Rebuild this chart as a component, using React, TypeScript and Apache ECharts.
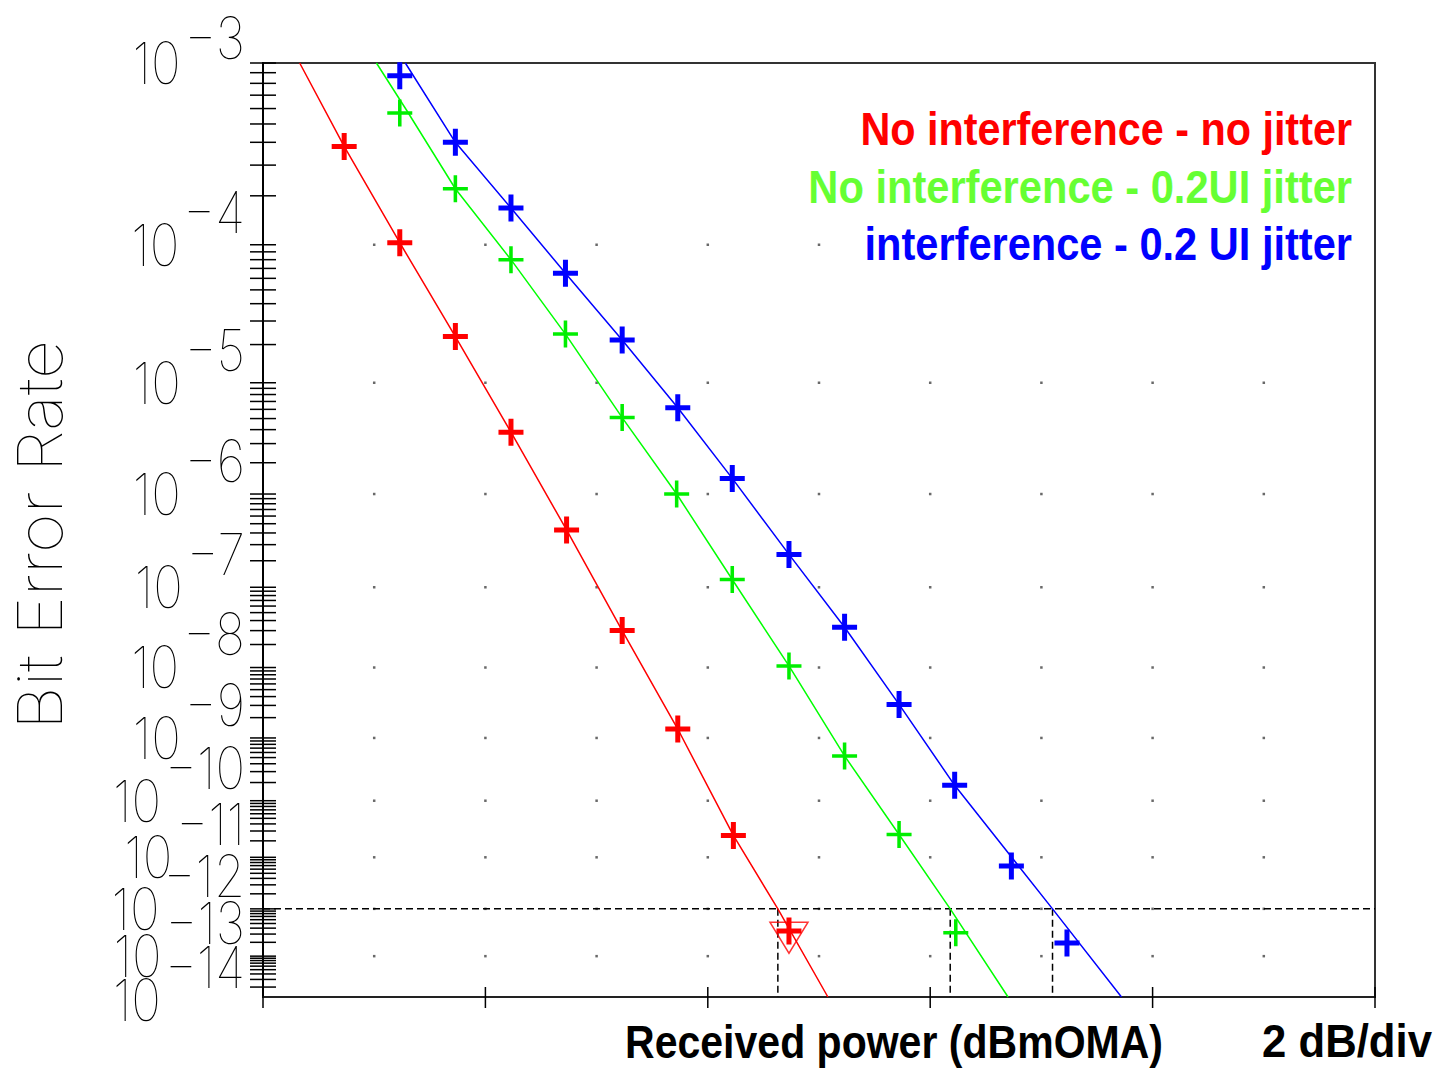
import React, { useEffect, useRef } from 'react';
import * as echarts from 'echarts';

// ---------------- data ----------------
// x: received power in dB from the left edge of the plot (2 dB / division)
// y: bit error rate
const xTicksDb = [0, 2, 4, 6, 8, 10];
const gridDotsDb = [1, 2, 3, 4, 5, 6, 7, 8, 9];
const gridDotsDecades = [4, 5, 6, 7, 8, 9, 10, 11, 12, 13];
const yLabelDecades = [3, 4, 5, 6, 7, 8, 9, 10, 11, 12, 13, 14];

const BER_TOP = 1e-3;
const BER_BOTTOM = 1.17e-14;

// measured points (+ markers)
const redPowerDb = [0.73, 1.23, 1.73, 2.23, 2.73, 3.23, 3.73, 4.23, 4.73];
const redBer = [3.8e-4, 1.03e-4, 2.3e-5, 3.8e-6, 4.3e-7, 3.0e-8, 1.36e-9, 2.5e-11, 3.5e-13];

const greenPowerDb = [1.23, 1.73, 2.23, 2.72, 3.23, 3.72, 4.22, 4.73, 5.23, 5.72, 6.23];
const greenBer = [5.7e-4, 2.2e-4, 8.0e-5, 2.4e-5, 5.1e-6, 1.0e-6, 1.23e-7, 1.05e-8, 5.3e-10, 2.6e-11, 3.2e-13];

const bluePowerDb = [1.23, 1.73, 2.23, 2.72, 3.23, 3.73, 4.22, 4.73, 5.23, 5.72, 6.22, 6.73, 7.23];
const blueBer = [8.7e-4, 4.0e-4, 1.69e-4, 6.5e-5, 2.17e-5, 6.2e-6, 1.42e-6, 2.35e-7, 3.3e-8, 3.1e-9, 1.8e-10, 6.9e-12, 1.94e-13];

// fitted curves
const redFitDb = [0.33, 0.73, 1.23, 1.73, 2.23, 2.73, 3.23, 3.73, 4.23, 4.63, 5.08];
const redFitBer = [1e-3, 3.8e-4, 1.03e-4, 2.3e-5, 3.8e-6, 4.3e-7, 3.0e-8, 1.36e-9, 2.5e-11, 1e-12, 1.17e-14];

const greenFitDb = [1.02, 1.29, 1.73, 2.23, 2.72, 3.23, 3.72, 4.22, 4.73, 5.23, 5.72, 6.18, 6.7];
const greenFitBer = [1e-3, 5.9e-4, 2.2e-4, 8.0e-5, 2.4e-5, 5.1e-6, 1.0e-6, 1.23e-7, 1.05e-8, 5.3e-10, 2.6e-11, 1e-12, 1.17e-14];

const blueFitDb = [1.28, 1.73, 2.23, 2.72, 3.23, 3.73, 4.22, 4.73, 5.23, 5.72, 6.22, 7.1, 7.72];
const blueFitBer = [1e-3, 4.0e-4, 1.69e-4, 6.5e-5, 2.17e-5, 6.2e-6, 1.42e-6, 2.35e-7, 3.3e-8, 3.1e-9, 1.8e-10, 1e-12, 1.17e-14];

// 1e-12 sensitivity construction
const thresholdBer = 1e-12;
const thresholdCrossDb = [4.63, 6.18, 7.1];
const redTriangleDb = [4.73];
const redTriangleBer = [2.5e-13];

const legendTexts = ['No interference - no jitter', 'No interference - 0.2UI jitter', 'interference - 0.2 UI jitter'];
const legendColors = ['#ff0000', '#66ff33', '#0000ff'];

// ---------------- BER scale ----------------
const tf = (ber: number) => Math.log10(-Math.log10(ber) - 0.3);

const PLUS5 = 'path://M9.6,0H14.4V10.6H24V15.4H14.4V26H9.6V15.4H0V10.6H9.6Z';
const PLUS35 = 'path://M10.3,0H13.7V11.3H24V14.7H13.7V26H10.3V14.7H0V11.3H10.3Z';

export default function App() {
  const ref = useRef<HTMLDivElement>(null);

  useEffect(() => {
    const chart = echarts.init(ref.current!, null, { renderer: 'svg' });

    const ctx = document.createElement('canvas').getContext('2d')!;
    const measure = (t: string, font: string) => {
      ctx.font = font;
      return ctx.measureText(t).width;
    };

    const labelFamily = 'Inter, "DejaVu Sans Mono", sans-serif';
    const labelSize = 58;
    const labelWeight = 100;
    const labelFont = `${labelWeight} ${labelSize}px ${labelFamily}`;
    const labelScale = 48 / measure('10', labelFont);

    const boldFamily = '"Liberation Sans", Arial, sans-serif';
    const boldSize = 47;
    const boldFont = `bold ${boldSize}px ${boldFamily}`;

    const yMin = tf(BER_TOP);
    const yMax = tf(BER_BOTTOM);

    const yTickBers: number[] = [];
    for (let m = 3; m <= 14; m++) {
      for (let k = 1; k <= 9; k++) {
        const b = k * Math.pow(10, -m);
        if (b <= BER_TOP * 1.0001 && b >= BER_BOTTOM) yTickBers.push(b);
      }
    }

    const dots: number[][] = [];
    gridDotsDecades.forEach((d) => gridDotsDb.forEach((x) => dots.push([x, tf(Math.pow(10, -d))])));

    const textStyle = (text: string, font: string, fill: string, align: string, lineHeight?: number) => ({
      text,
      font,
      fill,
      align,
      textAlign: align,
      verticalAlign: 'middle',
      textVerticalAlign: 'middle',
      ...(lineHeight ? { lineHeight } : {}),
    });

    const fitLine = (name: string, xs: number[], bs: number[], color: string) => ({
      type: 'line',
      name,
      data: xs.map((x, i) => [x, tf(bs[i])]),
      showSymbol: false,
      symbol: 'none',
      lineStyle: { color, width: 1.5 },
      z: 3,
      silent: true,
    });

    const markers = (name: string, xs: number[], bs: number[], color: string, sym: string) => ({
      type: 'scatter',
      name,
      data: xs.map((x, i) => [x, tf(bs[i])]),
      symbol: sym,
      symbolSize: [25, 27],
      itemStyle: { color, opacity: 1 },
      z: 4,
      silent: true,
    });

    const legendGraphics = legendTexts.map((t, i) => {
      const targetW = [492, 544, 488][i];
      const sx = targetW / measure(t, boldFont);
      return {
        type: 'text',
        x: 1352,
        y: [129, 187, 244][i],
        scaleX: sx,
        z: 100,
        style: { ...textStyle(t, boldFont, legendColors[i], 'right'), backgroundColor: '#fff' },
      };
    });

    const xTitle = 'Received power (dBmOMA)';
    const xDiv = '2 dB/div';
    const yTitle = 'Bit Error Rate';
    const yTitleFont = `${labelWeight} 62px ${labelFamily}`;

    const option: any = {
      animation: false,
      backgroundColor: '#fff',
      grid: { left: 263, top: 63, right: 68, bottom: 71, show: true, borderColor: '#333', borderWidth: 2, backgroundColor: 'transparent' },
      xAxis: {
        type: 'value',
        min: 0,
        max: 10,
        interval: 2,
        axisLine: { show: true, onZero: false, lineStyle: { color: '#222', width: 2 } },
        axisTick: { show: false },
        axisLabel: { show: false },
        splitLine: { show: false },
      },
      yAxis: {
        type: 'value',
        inverse: true,
        min: yMin,
        max: yMax,
        axisLine: { show: true, onZero: false, lineStyle: { color: '#000', width: 2 } },
        axisTick: { show: false },
        axisLabel: { show: false },
        splitLine: { show: false },
      },
      graphic: [
        ...legendGraphics,
        {
          type: 'text',
          x: 1163,
          y: 1041,
          scaleX: 538 / measure(xTitle, boldFont),
          style: textStyle(xTitle, boldFont, '#000', 'right'),
        },
        {
          type: 'text',
          x: 1432,
          y: 1041,
          scaleX: 170 / measure(xDiv, boldFont),
          style: textStyle(xDiv, boldFont, '#000', 'right'),
        },
        {
          type: 'text',
          x: 40,
          y: 535,
          rotation: Math.PI / 2,
          scaleX: 390 / measure(yTitle, yTitleFont),
          style: textStyle(yTitle, yTitleFont, '#000', 'center', 50),
        },
      ],
      series: [
        {
          type: 'scatter',
          name: 'grid dots',
          data: dots,
          symbol: 'rect',
          symbolSize: 2.5,
          itemStyle: { color: '#444' },
          z: 1,
          silent: true,
        },
        {
          type: 'line',
          name: 'threshold',
          data: [[0, tf(thresholdBer)], [10, tf(thresholdBer)]],
          symbol: 'none',
          lineStyle: { color: '#000', width: 1.5, type: [7, 4] },
          z: 2,
          silent: true,
        },
        ...thresholdCrossDb.map((x, i) => ({
          type: 'line',
          name: 'cross' + i,
          data: [[x, tf(thresholdBer)], [x, yMax]],
          symbol: 'none',
          lineStyle: { color: '#000', width: 1.5, type: [7, 4] },
          z: 2,
          silent: true,
        })),
        fitLine('red fit', redFitDb, redFitBer, '#ff0000'),
        fitLine('green fit', greenFitDb, greenFitBer, '#00ff00'),
        fitLine('blue fit', blueFitDb, blueFitBer, '#0000ff'),
        markers('No interference - no jitter', redPowerDb, redBer, '#ff0000', PLUS5),
        markers('No interference - 0.2UI jitter', greenPowerDb, greenBer, '#00ee00', PLUS35),
        markers('interference - 0.2 UI jitter', bluePowerDb, blueBer, '#0000ff', PLUS5),
        {
          type: 'scatter',
          name: 'red triangle',
          data: redTriangleDb.map((x, i) => [x, tf(redTriangleBer[i])]),
          symbol: 'triangle',
          symbolRotate: 180,
          symbolSize: [38, 31],
          itemStyle: { color: 'rgba(0,0,0,0)', borderColor: '#ff0000', borderWidth: 1.5 },
          z: 5,
          silent: true,
        },
        {
          type: 'custom',
          name: 'y ticks',
          silent: true,
          clip: false,
          z: 10,
          encode: { x: 0, y: 1 },
          data: yTickBers.map((b) => [0, tf(b)]),
          renderItem: (_p: any, api: any) => {
            const c = api.coord([api.value(0), api.value(1)]);
            return {
              type: 'line',
              shape: { x1: c[0] - 13, y1: c[1], x2: c[0] + 13, y2: c[1] },
              style: { stroke: '#000', lineWidth: 1.5 },
            };
          },
        },
        {
          type: 'custom',
          name: 'x ticks',
          silent: true,
          clip: false,
          z: 10,
          encode: { x: 0, y: 1 },
          data: xTicksDb.map((x) => [x, yMax]),
          renderItem: (_p: any, api: any) => {
            const c = api.coord([api.value(0), api.value(1)]);
            return {
              type: 'line',
              shape: { x1: c[0], y1: c[1] - 10, x2: c[0], y2: c[1] + 11 },
              style: { stroke: '#000', lineWidth: 1.5 },
            };
          },
        },
        {
          type: 'custom',
          name: 'y labels',
          silent: true,
          clip: false,
          z: 10,
          encode: { x: 0, y: 1 },
          data: yLabelDecades.map((d) => [0, tf(Math.pow(10, -d)), d]),
          renderItem: (_p: any, api: any) => {
            const d = api.value(2);
            const c = api.coord([0, api.value(1)]);
            const exp = '\u2212' + d;
            const expRight = 245;
            const expW = measure(exp, labelFont) * labelScale;
            const baseRight = expRight - expW - 4;
            const expY = Math.max(c[1] - 33, 38);
            return {
              type: 'group',
              children: [
                {
                  type: 'text',
                  x: baseRight,
                  y: c[1],
                  scaleX: labelScale,
                  style: textStyle('10', labelFont, '#000', 'right', 44),
                },
                {
                  type: 'text',
                  x: expRight,
                  y: expY,
                  scaleX: labelScale,
                  style: textStyle(exp, labelFont, '#000', 'right', 44),
                },
              ],
            };
          },
        },
      ],
    };

    chart.setOption(option);
    return () => chart.dispose();
  }, []);

  return (
    <div
      ref={ref}
      style={{ position: 'fixed', left: 0, top: 0, width: 1443, height: 1068, background: '#fff' }}
    />
  );
}
